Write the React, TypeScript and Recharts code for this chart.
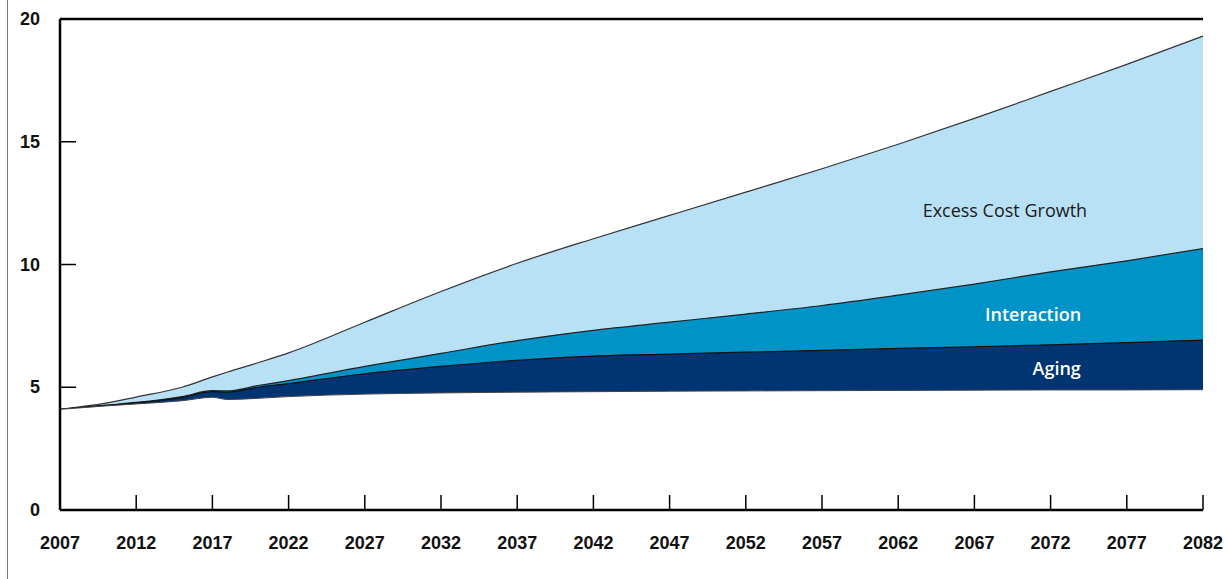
import { AreaChart, Area, XAxis, YAxis, ReferenceDot, ReferenceLine } from "recharts";

// values (stack tops, cumulative)
const years = [
  2007, 2010, 2012, 2015, 2017, 2018, 2020, 2022, 2027, 2032, 2037, 2042,
  2047, 2052, 2057, 2062, 2067, 2072, 2077, 2082,
];
const baseTop = [
  4.1, 4.24, 4.32, 4.45, 4.59, 4.5, 4.55, 4.62, 4.72, 4.77, 4.8, 4.82,
  4.84, 4.85, 4.86, 4.87, 4.88, 4.89, 4.89, 4.9,
];
const agingTop = [
  4.1, 4.26, 4.36, 4.58, 4.82, 4.8, 5.0, 5.15, 5.55, 5.85, 6.1, 6.27,
  6.35, 6.43, 6.5, 6.58, 6.65, 6.73, 6.82, 6.92,
];
const interactionTop = [
  4.1, 4.27, 4.38, 4.62, 4.86, 4.85, 5.07, 5.27, 5.85, 6.38, 6.9, 7.32,
  7.65, 7.98, 8.33, 8.75, 9.2, 9.7, 10.15, 10.65,
];
const excessTop = [
  4.1, 4.35, 4.6, 5.0, 5.42, 5.62, 6.0, 6.4, 7.65, 8.9, 10.05, 11.05,
  12.0, 12.95, 13.9, 14.9, 15.95, 17.05, 18.15, 19.3,
];
const xTicks = [
  2007, 2012, 2017, 2022, 2027, 2032, 2037, 2042, 2047, 2052, 2057, 2062,
  2067, 2072, 2077, 2082,
];
const yTicks = [0, 5, 10, 15, 20];

const data = years.map((year, i) => ({
  year,
  base: baseTop[i],
  aging: agingTop[i],
  interaction: interactionTop[i],
  excess: excessTop[i],
}));

const tickFont = {
  fontFamily: "'Liberation Sans', Arial, sans-serif",
  fontWeight: 700,
  fontSize: 18,
  fill: "#111",
};

function XTick({ x, y, payload }: any) {
  return (
    <g>
      <line x1={x} y1={y} x2={x} y2={y - 15} stroke="#000" strokeWidth={1.5} />
      <text x={x} y={y + 33} textAnchor="middle" dominantBaseline="central" {...tickFont}>
        {payload.value}
      </text>
    </g>
  );
}

function YTick({ x, y, payload }: any) {
  return (
    <g>
      {payload.value > 0 && payload.value < 20 && (
        <line x1={x} y1={y} x2={x + 16} y2={y} stroke="#000" strokeWidth={1.5} />
      )}
      <text x={x - 20} y={y} textAnchor="end" dominantBaseline="central" {...tickFont}>
        {payload.value}
      </text>
    </g>
  );
}

function areaLabel(text: string, color: string, weight: number) {
  return {
    content: (props: any) => {
      const vb = props.viewBox || {};
      return (
        <text
          x={vb.x + (vb.width || 0) / 2}
          y={vb.y + (vb.height || 0) / 2}
          textAnchor="middle"
          dominantBaseline="central"
          fontFamily="'Open Sans', sans-serif"
          fontSize={18}
          fontWeight={weight}
          fill={color}
        >
          {text}
        </text>
      );
    },
  };
}

export default function App() {
  return (
    <div style={{ position: "absolute", left: 0, top: 0, width: 1228, height: 579, background: "#fff" }}>
      {/* thin page edge on the left */}
      <div style={{ position: "absolute", left: 7, top: 0, width: 1, height: 579, background: "#777" }} />
      <AreaChart
        width={1228}
        height={579}
        data={data}
        margin={{ top: 19, right: 25, left: 0, bottom: 0 }}
      >
        <XAxis
          dataKey="year"
          type="number"
          domain={[2007, 2082]}
          ticks={xTicks}
          interval={0}
          height={69}
          tickSize={0}
          tickMargin={0}
          tickLine={false}
          tick={<XTick />}
          axisLine={{ stroke: "#000", strokeWidth: 2.5 }}
        />
        <YAxis
          type="number"
          domain={[0, 20]}
          ticks={yTicks}
          interval={0}
          width={60}
          tickSize={0}
          tickMargin={0}
          tickLine={false}
          tick={<YTick />}
          axisLine={{ stroke: "#000", strokeWidth: 2.5 }}
        />
        <YAxis
          yAxisId="right"
          orientation="right"
          type="number"
          domain={[0, 20]}
          width={0}
          tick={false}
          tickLine={false}
          axisLine={{ stroke: "#000", strokeWidth: 3 }}
        />

        {/* totals drawn back to front, each filled down to zero */}
        <Area type="monotone" dataKey="excess" name="Excess Cost Growth" baseValue={0}
          fill="#b9e1f5" fillOpacity={1} stroke="#333" strokeWidth={1.2} isAnimationActive={false} />
        <Area type="monotone" dataKey="interaction" name="Interaction" baseValue={0}
          fill="#0093c8" fillOpacity={1} stroke="#222" strokeWidth={1.2} isAnimationActive={false} />
        <Area type="monotone" dataKey="aging" name="Aging" baseValue={0}
          fill="#003473" fillOpacity={1} stroke="#111" strokeWidth={1.2} isAnimationActive={false} />
        <Area type="monotone" dataKey="base" name="Base" baseValue={0}
          fill="#ffffff" fillOpacity={1} stroke="#444" strokeWidth={1} isAnimationActive={false} />

        {/* top frame of the plot */}
        <ReferenceLine y={20} stroke="#000" strokeWidth={2.5} />

        <ReferenceDot x={2069} y={12.22} r={0} stroke="none" fill="none"
          label={areaLabel("Excess Cost Growth", "#1a1a1a", 500)} />
        <ReferenceDot x={2070.85} y={7.98} r={0} stroke="none" fill="none"
          label={areaLabel("Interaction", "#ffffff", 600)} />
        <ReferenceDot x={2072.4} y={5.78} r={0} stroke="none" fill="none"
          label={areaLabel("Aging", "#ffffff", 600)} />
      </AreaChart>
    </div>
  );
}
